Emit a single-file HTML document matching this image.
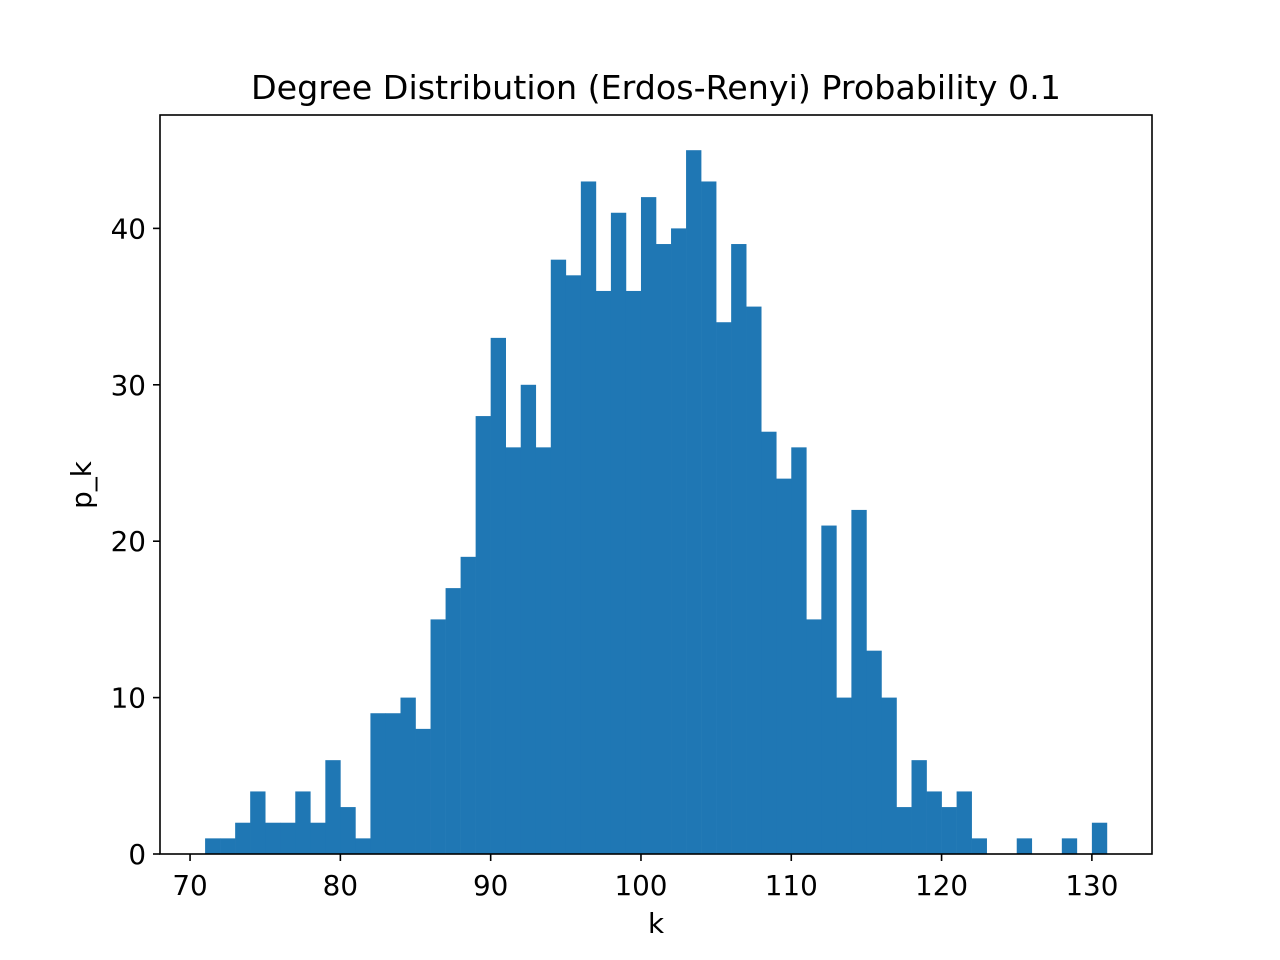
<!DOCTYPE html>
<html><head><meta charset="utf-8"><style>
html,body{margin:0;padding:0;background:#fff;}
svg{display:block;font-family:"DejaVu Sans","Liberation Sans",sans-serif;}
</style></head><body>
<svg id="chart" width="1280" height="960" viewBox="0 0 1280 960">
<rect width="1280" height="960" fill="#fff"/>
<text x="656" y="99" font-size="33.3" text-anchor="middle">Degree Distribution (Erdos-Renyi) Probability 0.1</text>
<g id="bars"></g>
<g id="xt"></g>
<g id="yt"></g>
<rect x="160" y="115" width="992" height="739" fill="none" stroke="#000" stroke-width="1.6"/>
<text x="656" y="933" font-size="27.8" text-anchor="middle">k</text>
<text transform="translate(91,485) rotate(-90)" font-size="27.8" text-anchor="middle">p_k</text>
</svg>
<script>
const binStart = 71;
const binWidth = 1;
const counts = [1,1,2,4,2,2,4,2,6,3,1,9,9,10,8,15,17,19,28,33,26,30,26,38,37,43,36,41,36,42,39,40,45,43,34,39,35,27,24,26,15,21,10,22,13,10,3,6,4,3,4,1,0,0,1,0,0,1,0,2];
const xTicks = [70,80,90,100,110,120,130];
const yTicks = [0,10,20,30,40];
const xMin = 68, xMax = 134, yMin = 0, yMax = 47.25;
const L = 160, R = 1152, T = 115, B = 854;
const sx = v => L + (v - xMin) / (xMax - xMin) * (R - L);
const sy = v => B - (v - yMin) / (yMax - yMin) * (B - T);
const NS = "http://www.w3.org/2000/svg";
const bars = document.getElementById('bars');
counts.forEach((c, i) => {
  if (c <= 0) return;
  const x0 = sx(binStart + i * binWidth), x1 = sx(binStart + (i + 1) * binWidth);
  const r = document.createElementNS(NS, 'rect');
  r.setAttribute('x', x0); r.setAttribute('width', x1 - x0 + 0.3);
  r.setAttribute('y', sy(c)); r.setAttribute('height', sy(0) - sy(c));
  r.setAttribute('fill', '#1f77b4');
  
  
  bars.appendChild(r);
});
const xt = document.getElementById('xt');
xTicks.forEach(v => {
  const l = document.createElementNS(NS, 'line');
  l.setAttribute('x1', sx(v)); l.setAttribute('x2', sx(v));
  l.setAttribute('y1', B); l.setAttribute('y2', B + 7);
  l.setAttribute('stroke', '#000'); l.setAttribute('stroke-width', '1.6');
  
  
  xt.appendChild(l);
  const t = document.createElementNS(NS, 'text');
  t.setAttribute('x', sx(v)); t.setAttribute('y', 895);
  t.setAttribute('font-size', '27.8'); t.setAttribute('text-anchor', 'middle');
  t.textContent = v;
  
  
  xt.appendChild(t);
});
const yt = document.getElementById('yt');
yTicks.forEach(v => {
  const l = document.createElementNS(NS, 'line');
  l.setAttribute('x1', L - 7); l.setAttribute('x2', L);
  l.setAttribute('y1', sy(v)); l.setAttribute('y2', sy(v));
  l.setAttribute('stroke', '#000'); l.setAttribute('stroke-width', '1.6');
  
  
  yt.appendChild(l);
  const t = document.createElementNS(NS, 'text');
  t.setAttribute('x', L - 14); t.setAttribute('y', sy(v) + 10);
  t.setAttribute('font-size', '27.8'); t.setAttribute('text-anchor', 'end');
  t.textContent = v;
  
  
  yt.appendChild(t);
});
</script>
</body></html>
